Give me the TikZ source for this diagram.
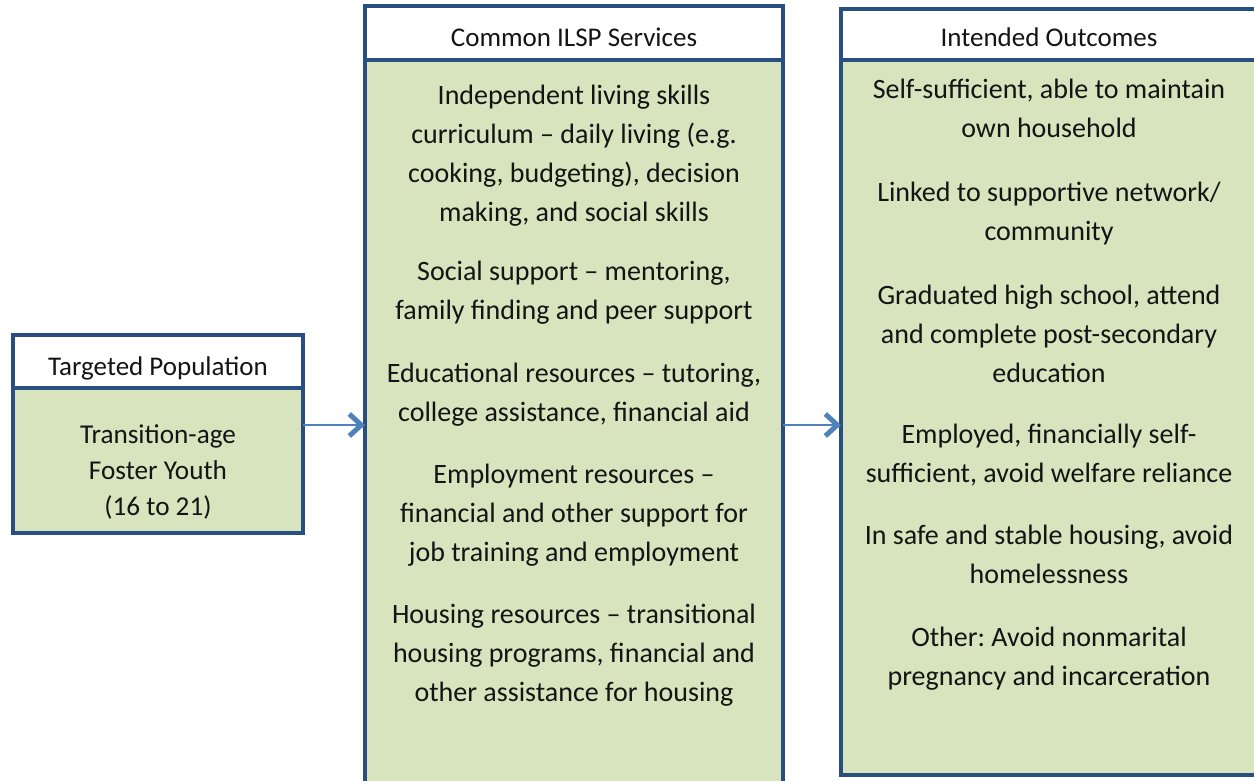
\documentclass[tikz,border=0pt]{standalone}
\usepackage{fontspec}
\setmainfont{Carlito}
\frenchspacing
\usetikzlibrary{arrows.meta}
\definecolor{bordblue}{RGB}{40,78,130}
\definecolor{boxgreen}{RGB}{215,228,189}
\definecolor{arrblue}{RGB}{79,129,189}
\definecolor{txt}{RGB}{20,20,20}
\tikzset{
  hdr/.style={draw=bordblue, line width=4pt, fill=white},
  bodybox/.style={draw=bordblue, line width=4pt, fill=boxgreen},
  para/.style={anchor=north, inner sep=0pt, align=center, text=txt,
    font=\fontsize{28}{39}\selectfont},
  lpara/.style={anchor=north, inner sep=0pt, align=center, text=txt,
    font=\fontsize{27.2}{36}\selectfont},
  htext/.style={anchor=base, inner sep=0pt, text=txt, font=\fontsize{27}{30}\selectfont},
  flow/.style={draw=arrblue, line width=1.6pt,
    -{Straight Barb[length=12pt,width=22pt,line width=5pt]}}
}
\begin{document}
\begin{tikzpicture}[x=1pt,y=-1pt]
\path[use as bounding box] (0,0) rectangle (1254,780);
\clip (0,0) rectangle (1254,780);
% left box
\draw[bodybox] (13,388) rectangle (303,533);
\draw[hdr] (13,335) rectangle (303,388);
\node[htext] (lhead) at (158,375) {Targeted Population};
\node[lpara] (lbody) at (158,418) {\strut Transition-age\\Foster Youth\\(16 to 21)};
\coordinate (lboxe) at (303,425);
% middle box
\draw[bodybox] (365,60) rectangle (783,795);
\draw[hdr] (365,6) rectangle (783,60);
\node[htext] (mhead) at (574,46) {Common ILSP Services};
\node[para] (m1) at (574,77) {\strut Independent living skills\\curriculum -- daily living (e.g.\\cooking, budgeting), decision\\making, and social skills};
\node[para] (m2) at (574,253) {\strut Social support -- mentoring,\\family finding and peer support};
\node[para] (m3) at (574,355) {\strut Educational resources -- tutoring,\\college assistance, financial aid};
\node[para] (m4) at (574,456) {\strut Employment resources --\\financial and other support for\\job training and employment};
\node[para] (m5) at (574,596) {\strut Housing resources -- transitional\\housing programs, financial and\\other assistance for housing};
\coordinate (mboxe) at (783,425);
% right box
\draw[bodybox] (841,60) rectangle (1258,775);
\draw[hdr] (841,9) rectangle (1258,60);
\coordinate (rboxw) at (841,425);
\coordinate (mboxw) at (365,425);
\node[htext] (rhead) at (1049,46) {Intended Outcomes};
\node[para] (r1) at (1049,71) {\strut Self-sufficient, able to maintain\\own household};
\node[para] (r2) at (1049,174) {\strut Linked to supportive network/\\community};
\node[para] (r3) at (1049,277) {\strut Graduated high school, attend\\and complete post-secondary\\education};
\node[para] (r4) at (1049,416) {\strut Employed, financially self-\\sufficient, avoid welfare reliance};
\node[para] (r5) at (1049,517) {\strut In safe and stable housing, avoid\\homelessness};
\node[para] (r6) at (1049,619) {\strut Other: Avoid nonmarital\\pregnancy and incarceration};
% arrows
\draw[flow] (lboxe) -- (mboxw);
\draw[flow] (mboxe) -- (rboxw);
\end{tikzpicture}
\end{document}
